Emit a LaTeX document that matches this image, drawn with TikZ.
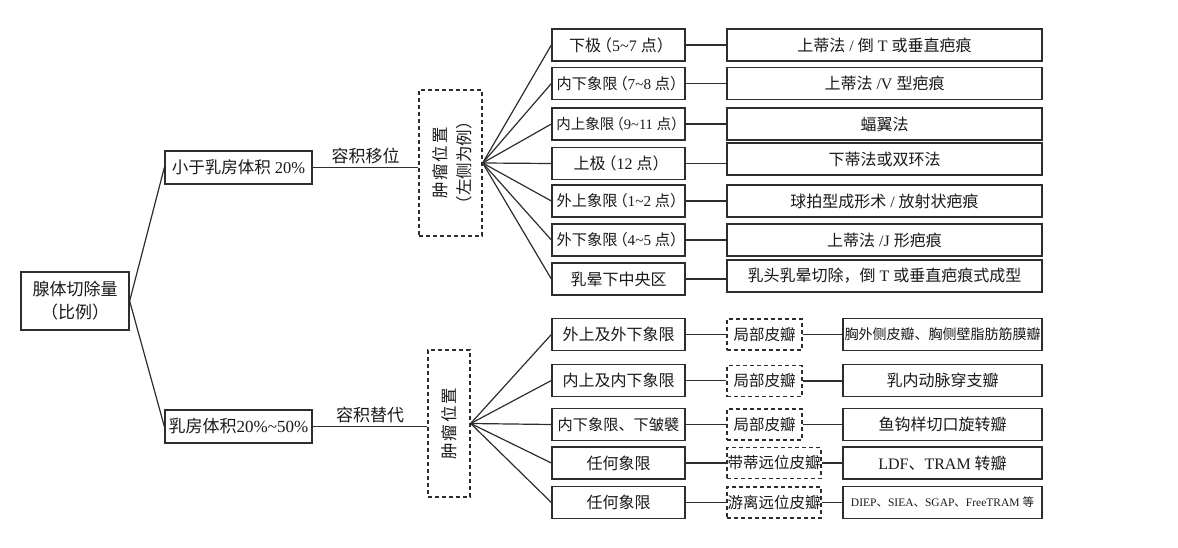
\documentclass[tikz,border=0pt]{standalone}
\usepackage{fontspec}
\setmainfont{Noto Sans CJK SC}
\newfontfamily\latfont{Liberation Serif}
\newcommand\lt[1]{{\latfont #1}}
\newcommand\tl{{\latfont\textasciitilde}}
\newcommand\lp{\kern-5pt（}
\newcommand\rp{）\kern-5pt}
\definecolor{lc}{RGB}{45,45,45}
\definecolor{tc}{RGB}{25,25,25}
\begin{document}
\begin{tikzpicture}[x=1pt,y=-1pt,
  box/.style={draw=lc, line width=1.3pt, inner sep=0pt, minimum height=32pt, text=tc, font=\fontsize{16}{19}\selectfont},
  lbox/.style={box, minimum width=133pt},
  nbox/.style={lbox, font=\fontsize{15.2}{18}\selectfont},
  rbox/.style={box, minimum width=315pt},
  sbox/.style={box, minimum width=199pt},
  dbox/.style={draw=lc, line width=1.3pt, dash pattern=on 4pt off 3pt, inner sep=0pt, text=tc, font=\fontsize{15.5}{18}\selectfont},
  conn/.style={draw=lc, line width=1.2pt},
  lab/.style={text=tc, font=\fontsize{17}{20}\selectfont, inner sep=0pt}]
\useasboundingbox (0,0) rectangle (1178,548);

% root
\node[box, minimum width=108pt, minimum height=58pt, align=center, font=\fontsize{17}{23}\selectfont] (root) at (75,301) {腺体切除量\\（比例）};

% level 1
\node[box, minimum width=147pt, minimum height=33pt, font=\fontsize{16.5}{19}\selectfont] (up) at (238.5,167.5) {小于乳房体积\lt{ 20\%}};
\node[box, minimum width=147pt, minimum height=33pt, font=\fontsize{17}{20}\selectfont] (lo) at (238.5,426.5) {乳房体积\lt{20\%\tl50\%}};

% dashed position boxes
\node[dbox, minimum width=63pt, minimum height=146pt] (d1) at (450.5,163) {};
\node[rotate=90, align=center, text=tc, inner sep=0pt, font=\fontsize{16.5}{24}\selectfont] (d1t) at (452,163) {肿\hspace{2pt}瘤\hspace{2pt}位\hspace{2pt}置\\（左侧为例）};
\node[dbox, minimum width=42pt, minimum height=147pt] (d2) at (449,423.5) {};
\node[rotate=90, text=tc, inner sep=0pt, font=\fontsize{16.5}{20}\selectfont] (d2t) at (d2.center) {肿\hspace{2pt}瘤\hspace{2pt}位\hspace{2pt}置};

\draw[conn] (root.east) -- (up.west);
\draw[conn] (root.east) -- (lo.west);
\draw[conn] (up.east) -- (up.east -| d1.west) node[lab, midway, above=3pt] (lab1) {容积移位};
\draw[conn] (lo.east) -- (lo.east -| d2.west) node[lab, midway, above=3pt] (lab2) {容积替代};

% upper left column
\node[lbox] (a1) at (618.5,45) {下极\lp\lt{5\textasciitilde7 }点\rp};
\node[nbox] (a2) at (618.5,83.5) {内下象限\lp\lt{7\textasciitilde8 }点\rp};
\node[lbox, font=\fontsize{14.5}{18}\selectfont] (a3) at (618.5,124) {内上象限\lp\lt{9\textasciitilde11 }点\rp};
\node[lbox] (a4) at (618.5,163.5) {上极\lp\lt{12 }点\rp};
\node[nbox] (a5) at (618.5,201) {外上象限\lp\lt{1\textasciitilde2 }点\rp};
\node[nbox] (a6) at (618.5,240) {外下象限\lp\lt{4\textasciitilde5 }点\rp};
\node[lbox] (a7) at (618.5,279) {乳晕下中央区};

% upper right column
\node[rbox] (b1) at (884.5,45) {上蒂法\lt{ / }倒\lt{ T }或垂直疤痕};
\node[rbox] (b2) at (884.5,83.5) {上蒂法\lt{ /V }型疤痕};
\node[rbox] (b3) at (884.5,124) {蝠翼法};
\node[rbox] (b4) at (884.5,159) {下蒂法或双环法};
\node[rbox] (b5) at (884.5,201) {球拍型成形术\lt{ / }放射状疤痕};
\node[rbox] (b6) at (884.5,240) {上蒂法\lt{ /J }形疤痕};
\node[rbox] (b7) at (884.5,276) {乳头乳晕切除，倒\lt{ T }或垂直疤痕式成型};

\foreach \i in {1,...,7} {
  \draw[conn] (d1.east) -- (a\i.west);
  \draw[conn] (a\i.east) -- (a\i.east -| b\i.west);
}

% lower left column
\node[lbox] (c1) at (618.5,334.5) {外上及外下象限};
\node[lbox] (c2) at (618.5,380.5) {内上及内下象限};
\node[nbox] (c3) at (618.5,424.5) {内下象限、下皱襞};
\node[lbox] (c4) at (618.5,463) {任何象限};
\node[lbox] (c5) at (618.5,502.5) {任何象限};

% lower middle dashed
\node[dbox, minimum width=75pt, minimum height=31pt] (m1) at (764.5,334.5) {局部皮瓣};
\node[dbox, minimum width=75pt, minimum height=31pt] (m2) at (764.5,381) {局部皮瓣};
\node[dbox, minimum width=75pt, minimum height=31pt] (m3) at (764.5,424.5) {局部皮瓣};
\node[dbox, minimum width=94pt, minimum height=31pt] (m4) at (774,463) {带蒂远位皮瓣};
\node[dbox, minimum width=94pt, minimum height=31pt] (m5) at (774,502.5) {游离远位皮瓣};

% lower right column
\node[sbox, font=\fontsize{14}{17}\selectfont] (e1) at (942.5,334.5) {胸外侧皮瓣、胸侧壁脂肪筋膜瓣};
\node[sbox] (e2) at (942.5,380.5) {乳内动脉穿支瓣};
\node[sbox] (e3) at (942.5,424.5) {鱼钩样切口旋转瓣};
\node[sbox] (e4) at (942.5,463) {\lt{LDF}、\lt{TRAM }转瓣};
\node[sbox, font=\fontsize{11.5}{14}\selectfont] (e5) at (942.5,502.5) {\lt{DIEP}、\lt{SIEA}、\lt{SGAP}、\lt{FreeTRAM }等};

\foreach \i in {1,...,5} {
  \draw[conn] (d2.east) -- (c\i.west);
  \draw[conn] (c\i.east) -- (c\i.east -| m\i.west);
  \draw[conn] (m\i.east) -- (m\i.east -| e\i.west);
}
\end{tikzpicture}
\end{document}
